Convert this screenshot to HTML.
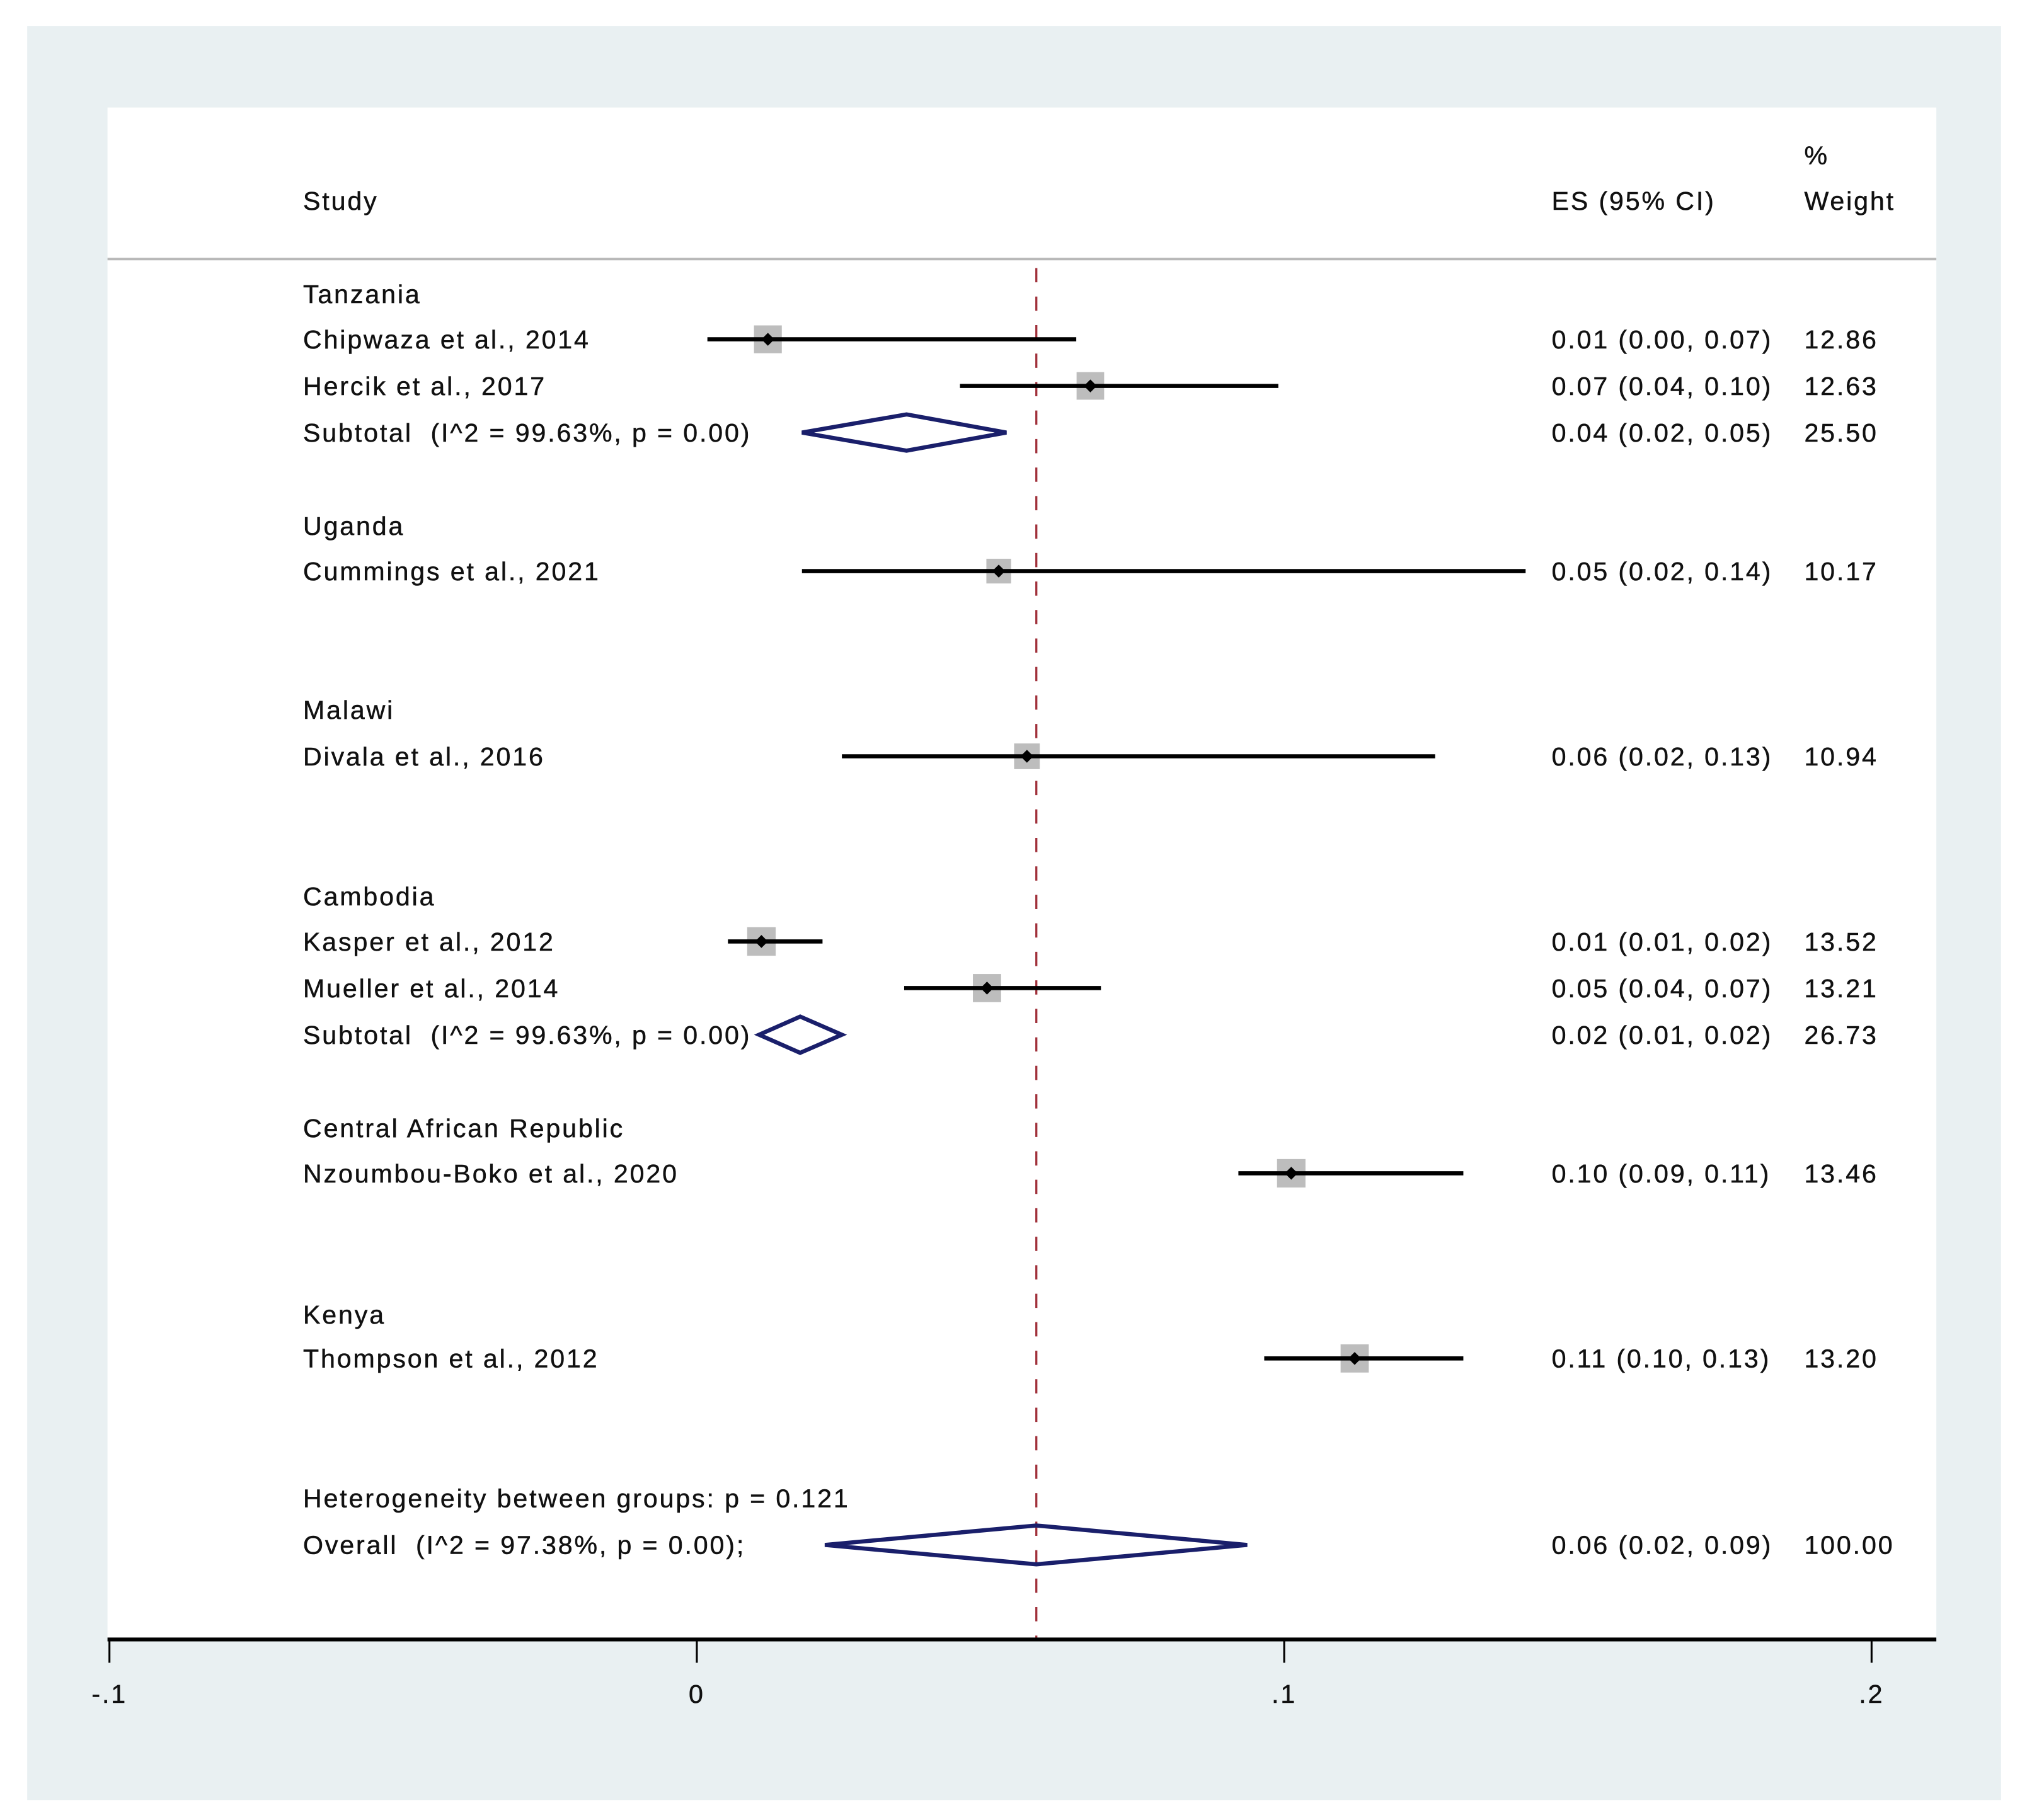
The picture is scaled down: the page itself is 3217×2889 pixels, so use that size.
<!DOCTYPE html>
<html><head><meta charset="utf-8">
<style>
html,body{margin:0;padding:0;background:#fff;}
svg{display:block;}
text{font-family:"Liberation Sans",sans-serif;font-size:20px;letter-spacing:1.4px;fill:#111;white-space:pre;stroke:#111;stroke-width:0.25px;}
</style></head>
<body>
<svg id="chart" width="3217" height="2889" viewBox="0 0 1565 1405.4" xmlns="http://www.w3.org/2000/svg">
<rect x="21" y="20" width="1524" height="1370" fill="#e9f0f2"/>
<rect x="83" y="83" width="1412" height="1183" fill="#ffffff"/>
<line x1="83" y1="200" x2="1495" y2="200" stroke="#b8b8b8" stroke-width="2"/>
<text x="234" y="162">Study</text>
<text x="1198" y="162">ES (95% CI)</text>
<text x="1393" y="127">%</text>
<text x="1393" y="162">Weight</text>
<g id="marks"></g>
</svg>
<script>
// data
const rowLabels = ["Tanzania","Chipwaza et al., 2014","Hercik et al., 2017","Subtotal  (I^2 = 99.63%, p = 0.00)","Uganda","Cummings et al., 2021","Malawi","Divala et al., 2016","Cambodia","Kasper et al., 2012","Mueller et al., 2014","Subtotal  (I^2 = 99.63%, p = 0.00)","Central African Republic","Nzoumbou-Boko et al., 2020","Kenya","Thompson et al., 2012","Heterogeneity between groups: p = 0.121","Overall  (I^2 = 97.38%, p = 0.00);"];
const rowTypes = ["group","study","study","subtotal","group","study","group","study","group","study","study","subtotal","group","study","group","study","note","overall"];
const rowY = [227,262,298,334,406,441,548,584,692,727,763,799,871,906,1015,1049,1157,1193];
const est = [null,0.0121,0.0670,0.0357,null,0.0514,null,0.0562,null,0.0110,0.0494,0.0176,null,0.1012,null,0.1120,null,0.0578];
const lower = [null,0.0018,0.0448,0.0179,null,0.0179,null,0.0247,null,0.0053,0.0353,0.0106,null,0.0922,null,0.0966,null,0.0218];
const upper = [null,0.0646,0.0990,0.0527,null,0.1411,null,0.1257,null,0.0214,0.0688,0.0247,null,0.1305,null,0.1305,null,0.0937];
const esText = [null,"0.01 (0.00, 0.07)","0.07 (0.04, 0.10)","0.04 (0.02, 0.05)",null,"0.05 (0.02, 0.14)",null,"0.06 (0.02, 0.13)",null,"0.01 (0.01, 0.02)","0.05 (0.04, 0.07)","0.02 (0.01, 0.02)",null,"0.10 (0.09, 0.11)",null,"0.11 (0.10, 0.13)",null,"0.06 (0.02, 0.09)"];
const weights = [null,12.86,12.63,25.50,null,10.17,null,10.94,null,13.52,13.21,26.73,null,13.46,null,13.20,null,100.00];
const tickValues = [-0.1,0,0.1,0.2];
const tickLabels = ["-.1","0",".1",".2"];
const overallEstimate = 0.0578;

const NS="http://www.w3.org/2000/svg";
const g=document.getElementById('marks');
const x0=538, pxPerUnit=4535;
function xs(v){return x0+v*pxPerUnit;}
function mk(tag,attrs){const e=document.createElementNS(NS,tag);for(const k in attrs)e.setAttribute(k,attrs[k]);g.appendChild(e);return e;}

let ref=mk('line',{x1:xs(overallEstimate),y1:207,x2:xs(overallEstimate),y2:1265,stroke:'#a0303a','stroke-width':1.6,'stroke-dasharray':'11,11'});



for(let i=0;i<rowLabels.length;i++){
  const y=rowY[i];
  const t=mk('text',{x:234,y:y+7});
  t.textContent=rowLabels[i];
  
  
  if(rowTypes[i]==='study'){
    const w=weights[i]; const s=Math.sqrt(w/13.5)*22;
    const sq=mk('rect',{x:xs(est[i])-s/2,y:y-s/2,width:s,height:s,fill:'#bdbdbd'});
    
    
    const ln=mk('line',{x1:xs(lower[i]),y1:y,x2:xs(upper[i]),y2:y,stroke:'#000','stroke-width':3.2});
    
    
    const c=xs(est[i]);
    const d=mk('polygon',{points:`${c-5},${y} ${c},${y-5} ${c+5},${y} ${c},${y+5}`,fill:'#000'});
    
    
  }
  if(rowTypes[i]==='subtotal'||rowTypes[i]==='overall'){
    const h=rowTypes[i]==='overall'?15:14;
    const p=mk('polygon',{points:`${xs(lower[i])},${y} ${xs(est[i])},${y-h} ${xs(upper[i])},${y} ${xs(est[i])},${y+h}`,fill:'none',stroke:'#1a1f6b','stroke-width':3.2});
    
    
  }
  if(esText[i]){
    const e=mk('text',{x:1198,y:y+7});
    e.textContent=esText[i];
    
    
    const wt=mk('text',{x:1393,y:y+7});
    wt.textContent=weights[i].toFixed(2);
    
    
  }
}
const ax=mk('line',{x1:83,y1:1266,x2:1495,y2:1266,stroke:'#000','stroke-width':3});


for(let k=0;k<tickValues.length;k++){
  const x=xs(tickValues[k]);
  const tk=mk('line',{x1:x,y1:1266,x2:x,y2:1284,stroke:'#000','stroke-width':1.5});
  
  
  const tl=mk('text',{x:x,y:1315,'text-anchor':'middle'});
  tl.textContent=tickLabels[k];
  
  
}
</script>
</body></html>
